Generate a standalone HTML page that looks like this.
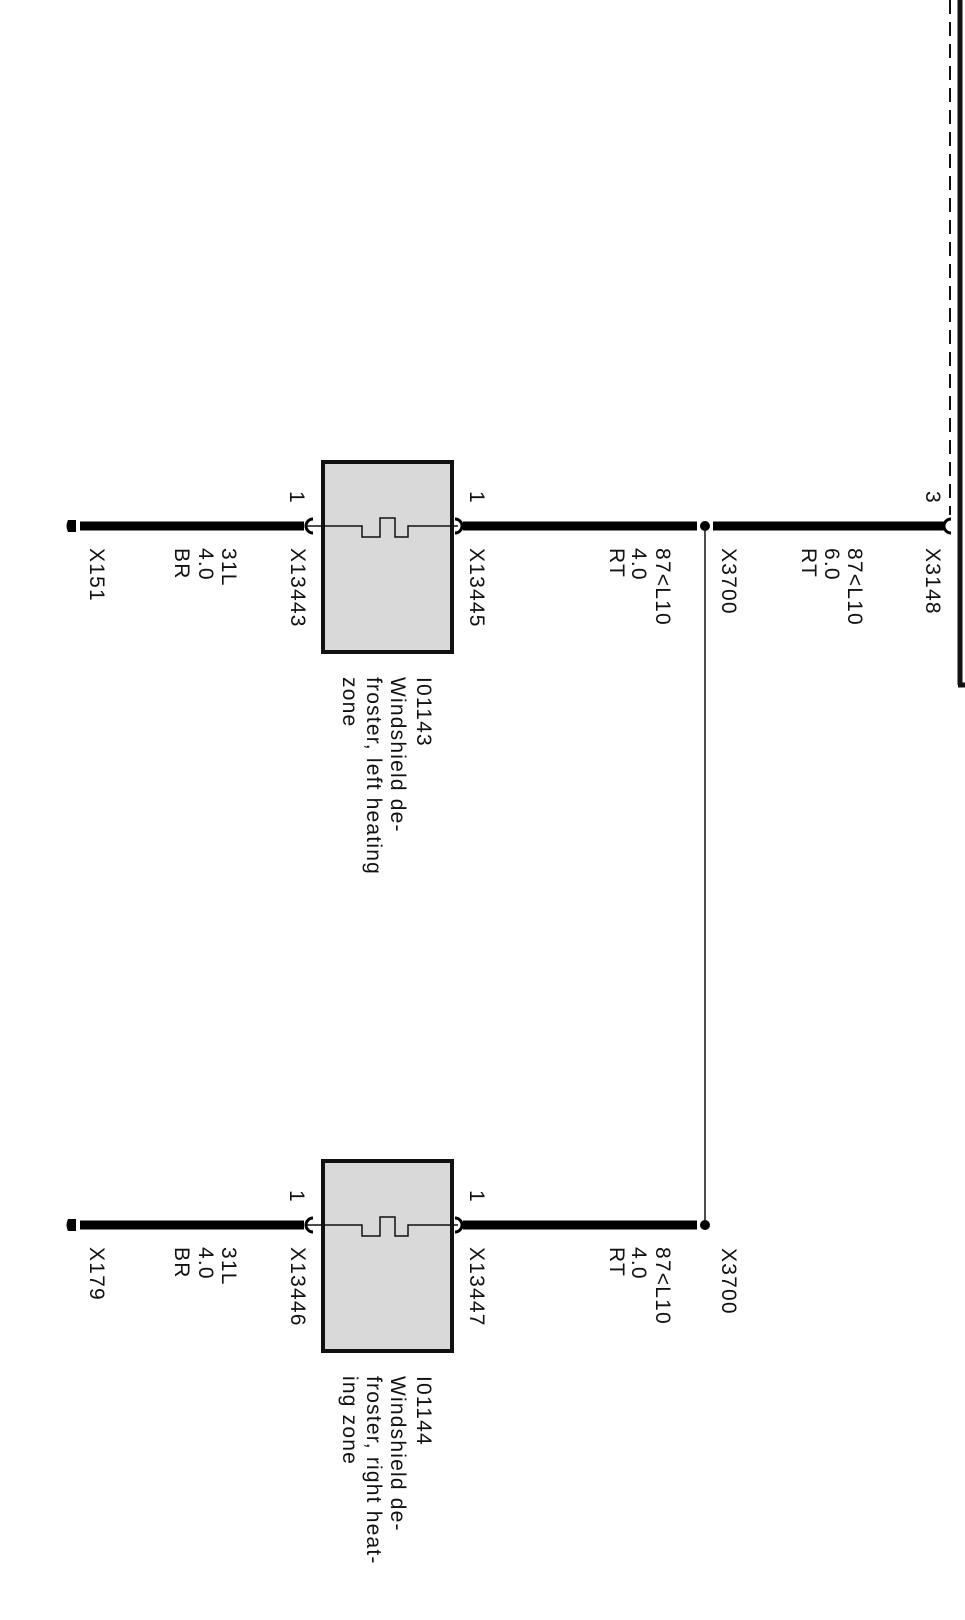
<!DOCTYPE html>
<html><head><meta charset="utf-8"><style>
html,body{margin:0;padding:0;background:#fff;}
svg{display:block}
text{font-family:"Liberation Sans",Arial,sans-serif;font-size:21px;letter-spacing:1.2px;fill:#111;}
</style></head><body>
<svg width="965" height="1620" viewBox="0 0 965 1620" xmlns="http://www.w3.org/2000/svg">
<line x1="960" y1="0" x2="960" y2="685" stroke="#111" stroke-width="5"/>
<line x1="958" y1="685" x2="965" y2="685" stroke="#111" stroke-width="5"/>
<line x1="950" y1="0" x2="950" y2="515" stroke="#111" stroke-width="2" stroke-dasharray="14,8"/>

<g id="u1">
<line x1="80" y1="526" x2="304" y2="526" stroke="#000" stroke-width="9"/>
<line x1="463" y1="526" x2="697" y2="526" stroke="#000" stroke-width="9"/>
<path d="M68 520 L76 520 L76 532 L68 532 Q65 526 68 520 Z" fill="#000"/>
<line x1="72" y1="520" x2="72" y2="532" stroke="#000" stroke-width="3"/>
<path d="M313 519 A7 7 0 0 0 313 533" fill="none" stroke="#000" stroke-width="3"/>
<path d="M455 519 A7 7 0 0 1 455 533" fill="none" stroke="#000" stroke-width="3"/>
<rect x="323" y="462" width="129" height="190" fill="#d9d9d9" stroke="#111" stroke-width="4"/>
<path d="M306 526 L362 526 L362 537 L380 537 L380 518 L395 518 L395 537 L408 537 L408 526 L458 526" fill="none" stroke="#111" stroke-width="1.5"/>
<text transform="translate(290,491) rotate(90)">1</text>
<text transform="translate(470,491) rotate(90)">1</text>
<text transform="translate(222,548) rotate(90)">31L</text>
<text transform="translate(199,548) rotate(90)">4.0</text>
<text transform="translate(175,548) rotate(90)">BR</text>
<text transform="translate(656,548) rotate(90)">87&lt;L10</text>
<text transform="translate(632,548) rotate(90)">4.0</text>
<text transform="translate(610,548) rotate(90)">RT</text>
</g>
<text transform="translate(291,548) rotate(90)">X13443</text>
<text transform="translate(470,548) rotate(90)">X13445</text>
<text transform="translate(90,548) rotate(90)">X151</text>
<text transform="translate(417,677) rotate(90)">I01143</text>
<text transform="translate(391,677) rotate(90)">Windshield de-</text>
<text transform="translate(367,677) rotate(90)">froster, left heating</text>
<text transform="translate(343,677) rotate(90)">zone</text>

<use href="#u1" transform="translate(0,699)"/>
<text transform="translate(291,1247) rotate(90)">X13446</text>
<text transform="translate(470,1247) rotate(90)">X13447</text>
<text transform="translate(90,1247) rotate(90)">X179</text>
<text transform="translate(417,1376) rotate(90)">I01144</text>
<text transform="translate(391,1376) rotate(90)">Windshield de-</text>
<text transform="translate(367,1376) rotate(90)">froster, right heat-</text>
<text transform="translate(343,1376) rotate(90)">ing zone</text>

<line x1="713" y1="526" x2="944" y2="526" stroke="#000" stroke-width="9"/>
<circle cx="705" cy="526" r="5" fill="#000"/>
<circle cx="705" cy="1225" r="5" fill="#000"/>
<line x1="705" y1="526" x2="705" y2="1225" stroke="#111" stroke-width="1.5"/>
<path d="M951 519 A7 7 0 0 0 951 533" fill="none" stroke="#000" stroke-width="3"/>
<text transform="translate(722,548) rotate(90)">X3700</text>
<text transform="translate(722,1248) rotate(90)">X3700</text>
<text transform="translate(848,548) rotate(90)">87&lt;L10</text>
<text transform="translate(825,548) rotate(90)">6.0</text>
<text transform="translate(802,548) rotate(90)">RT</text>
<text transform="translate(926,548) rotate(90)">X3148</text>
<text transform="translate(926,491) rotate(90)">3</text>
</svg>
</body></html>
